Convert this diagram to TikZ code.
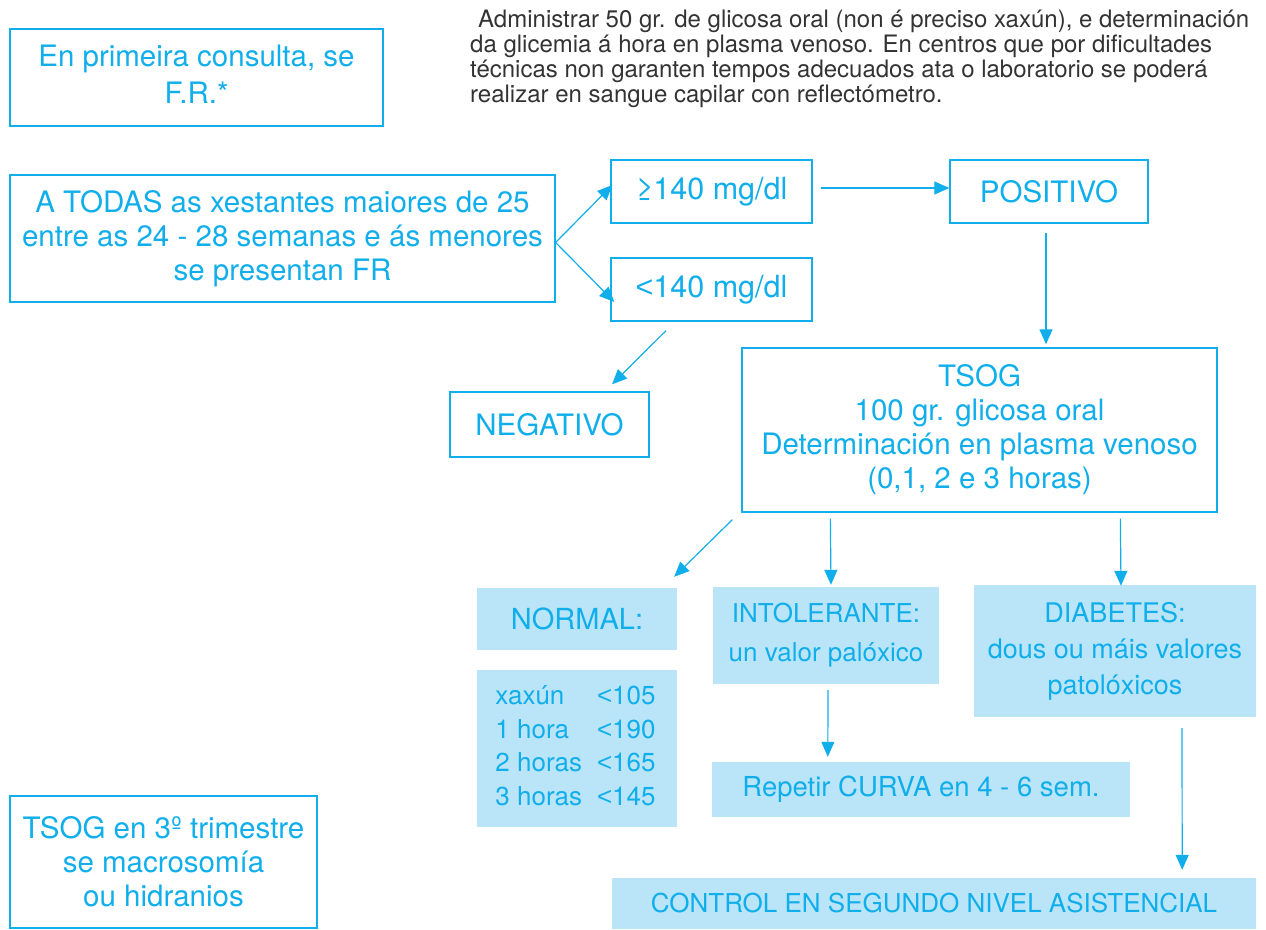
\documentclass[tikz,border=0pt]{standalone}
\usepackage{fontspec}
\setmainfont{TeX Gyre Heros}
\newfontfamily\lib{Liberation Sans}
\usetikzlibrary{arrows.meta,calc}
\definecolor{cy}{HTML}{10AEEA}
\definecolor{lb}{HTML}{BAE5F8}
\definecolor{gr}{HTML}{333333}
\newcommand{\lessth}{{\lib <}}
\begin{document}
\begin{tikzpicture}[x=1pt,y=-1pt,
  txt/.style={text=cy,align=center,inner sep=0pt,font=\fontsize{29.5}{34}\selectfont},
  box/.style={txt,draw=cy,line width=1.3pt},
  fbox/.style={txt,fill=lb,font=\fontsize{27}{35}\selectfont},
  arr/.style={draw=cy,line width=1.2pt,-{Triangle[length=15pt,width=13pt]}}]
\useasboundingbox (0,0) rectangle (1266,929);

\node[anchor=north west,inner sep=0pt,text=gr,align=left,font=\fontsize{24}{25}\selectfont] (info) at (470,10)
 {\hspace{8pt}Administrar 50 gr. de glicosa oral (non é preciso xaxún), e determinación\\
  da glicemia á hora en plasma venoso. En centros que por dificultades\\
  técnicas non garanten tempos adecuados ata o laboratorio se poderá\\
  realizar en sangue capilar con reflectómetro.};

\node[box,minimum width=373,minimum height=97] (fr) at (196.5,77.5) {En primeira consulta, se\\[3pt]F.R.*\vphantom{p}};
\node[box,minimum width=545,minimum height=127] (atodas) at (282.5,238.5)
 {A TODAS as xestantes maiores de 25\\entre as 24 - 28 semanas e ás menores\\se presentan FR};
\node[box,minimum width=201,minimum height=63,font=\fontsize{30.5}{34}\selectfont] (ge) at (711.5,191.5) {≥140 mg/dl};
\node[box,minimum width=201,minimum height=63,font=\fontsize{30.5}{34}\selectfont] (lt) at (711.5,289.5) {\lessth140 mg/dl};
\node[box,minimum width=198,minimum height=63] (pos) at (1049,191.5) {POSITIVO};
\node[box,minimum width=199,minimum height=65] (neg) at (549.5,424.5) {NEGATIVO};
\node[box,minimum width=475,minimum height=164] (tsog) at (979.5,430)
 {TSOG\\100 gr. glicosa oral\\Determinación en plasma venoso\\(0,1, 2 e 3 horas)};
\node[fbox,minimum width=200,minimum height=62,font=\fontsize{29}{34}\selectfont] (normal) at (577,619) {NORMAL:};
\node[fbox,minimum width=200,minimum height=157] (tab) at (577,748.5)
 {\fontsize{26}{33.5}\selectfont\begin{tabular}{@{}l@{\hspace{15pt}}l@{}}
  xaxún & \lessth105\\ 1 hora & \lessth190\\ 2 horas & \lessth165\\ 3 horas & \lessth145\end{tabular}\hspace{3pt}};
\node[fbox,minimum width=226,minimum height=97,font=\fontsize{26}{34}\selectfont] (intol) at (826,635.5) {INTOLERANTE:\\[5pt]un valor palóxico};
\node[fbox,minimum width=282,minimum height=132,font=\fontsize{27}{36}\selectfont] (diab) at (1115,651) {DIABETES:\\dous ou máis valores\\patolóxicos};
\node[fbox,minimum width=418,minimum height=55,font=\fontsize{27.5}{34}\selectfont] (rep) at (921,789.5) {Repetir CURVA en 4 - 6 sem.};
\node[box,minimum width=307,minimum height=132] (tsog3) at (163.5,862) {TSOG en 3º trimestre\\se macrosomía\\ou hidranios};
\node[fbox,minimum width=644,minimum height=51,font=\fontsize{26}{34}\selectfont] (control) at (934,903.5) {CONTROL EN SEGUNDO NIVEL ASISTENCIAL};

\draw[arr] ($(atodas.east)+(0,4)$) -- ($(ge.west)+(2,-6.5)$);
\draw[arr] ($(atodas.east)+(0,4)$) -- ($(lt.west)+(4,12.5)$);
\draw[arr] ($(ge.east)+(8,-3.5)$) -- ($(pos.west)+(0,-3.5)$);
\draw[arr] ($(pos.south)+(-3,9)$) -- ($(tsog.north)+(66.5,-3)$);
\draw[arr] ($(lt.south)+(-45.5,9)$) -- ($(neg.north)+(62.5,-7)$);
\draw[arr] ($(tsog.south west)+(-9,7)$) -- ($(normal.north east)+(-3,-11)$);
\draw[arr] ($(tsog.south west)+(89,6)$) -- ($(intol.north)+(5,-2)$);
\draw[arr] ($(tsog.south west)+(379,6)$) -- ($(diab.north)+(6,1)$);
\draw[arr] ($(intol.south)+(2,6)$) -- ($(rep.north west)+(116,-5)$);
\draw[arr] ($(diab.south)+(67,11)$) -- ($(control.north east)+(-74,-8)$);
\end{tikzpicture}
\end{document}
